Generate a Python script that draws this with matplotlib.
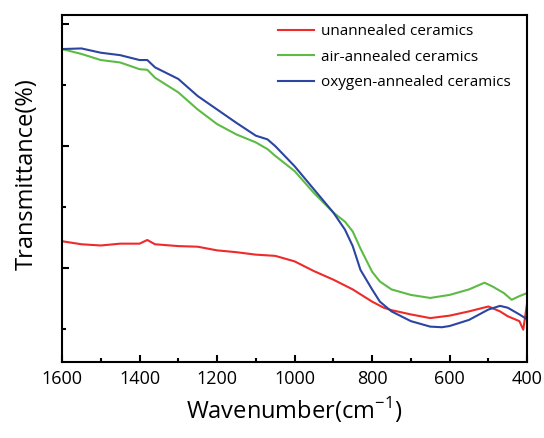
import matplotlib
matplotlib.use("Agg")
import matplotlib.pyplot as plt
from matplotlib.ticker import MultipleLocator, FixedLocator

plt.rcParams['font.family'] = ['Open Sans', 'DejaVu Sans']

# wavenumber (cm-1) and transmittance (arbitrary units)
wn_blue = [1600, 1550, 1500, 1450, 1400, 1380, 1360, 1300, 1250, 1200, 1150, 1100, 1070,
           1050, 1000, 950, 900, 870, 850, 830, 800, 780, 750, 700, 650, 620, 600, 550,
           500, 470, 450, 420, 400]
t_blue = [4.59, 4.60, 4.53, 4.49, 4.41, 4.41, 4.29, 4.10, 3.82, 3.60, 3.38, 3.17, 3.11,
          3.00, 2.67, 2.29, 1.91, 1.63, 1.36, 0.97, 0.65, 0.45, 0.29, 0.13, 0.04, 0.03,
          0.05, 0.15, 0.32, 0.38, 0.35, 0.24, 0.16]

wn_green = [1600, 1550, 1500, 1450, 1400, 1380, 1360, 1300, 1250, 1200, 1150, 1100, 1070,
            1050, 1000, 950, 900, 870, 850, 830, 800, 780, 750, 700, 650, 600, 550, 510,
            490, 460, 440, 420, 400]
t_green = [4.59, 4.51, 4.41, 4.37, 4.26, 4.25, 4.12, 3.88, 3.60, 3.36, 3.19, 3.06, 2.95,
           2.84, 2.59, 2.23, 1.91, 1.76, 1.60, 1.32, 0.94, 0.78, 0.65, 0.56, 0.51, 0.56,
           0.65, 0.76, 0.70, 0.59, 0.48, 0.54, 0.59]

wn_red = [1600, 1550, 1500, 1450, 1400, 1380, 1360, 1300, 1250, 1200, 1150, 1100, 1050,
          1000, 950, 900, 850, 800, 770, 750, 700, 650, 600, 550, 500, 470, 450, 420,
          410, 400]
t_red = [1.44, 1.39, 1.37, 1.40, 1.40, 1.46, 1.39, 1.36, 1.35, 1.29, 1.26, 1.22, 1.20,
         1.11, 0.95, 0.81, 0.65, 0.45, 0.35, 0.31, 0.24, 0.18, 0.22, 0.29, 0.37, 0.29,
         0.21, 0.13, -0.01, 0.43]

labels = ['unannealed ceramics', 'air-annealed ceramics', 'oxygen-annealed ceramics']

fig = plt.figure(figsize=(5.44, 4.38), dpi=100)
ax = fig.add_axes([0.114, 0.1735, 0.855, 0.7925])

ax.plot(wn_red, t_red, color='#ee2a2a', lw=1.5, label=labels[0])
ax.plot(wn_green, t_green, color='#5dbb45', lw=1.5, label=labels[1])
ax.plot(wn_blue, t_blue, color='#2b45a0', lw=1.5, label=labels[2])

ax.set_xlim(1600, 400)
ax.set_ylim(-0.54, 5.15)
ax.xaxis.set_major_locator(MultipleLocator(200))
ax.xaxis.set_minor_locator(MultipleLocator(100))
ax.yaxis.set_major_locator(FixedLocator([1, 3, 5]))
ax.yaxis.set_minor_locator(FixedLocator([0, 2, 4]))
ax.tick_params(axis='both', which='both', direction='in', top=False, right=False, width=1.5)
ax.tick_params(axis='both', which='major', length=5)
ax.tick_params(axis='both', which='minor', length=3)
ax.tick_params(axis='x', labelsize=13, pad=6)
ax.set_yticklabels([])
for s in ax.spines.values():
    s.set_linewidth(1.5)

ax.set_xlabel('Wavenumber(cm$^{\\mathregular{-1}}$)', fontsize=17, labelpad=5)
ax.set_ylabel('Transmittance(%)', fontsize=17)
ax.yaxis.set_label_coords(-0.05, 0.54)

ax.legend(loc='upper right', frameon=False, fontsize=11, handlelength=2.3,
          handletextpad=0.5, labelspacing=0.7, borderaxespad=0.2,
          bbox_to_anchor=(0.985, 1.0))

fig.savefig('out.png', dpi=100)
